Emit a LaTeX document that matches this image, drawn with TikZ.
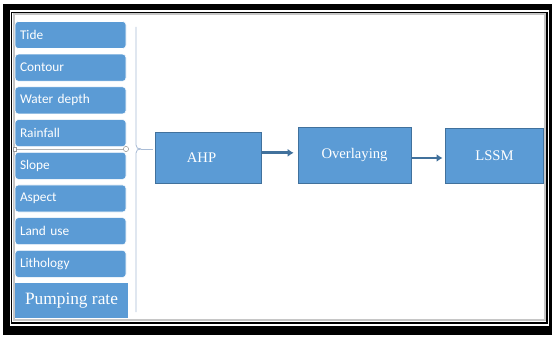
\documentclass[tikz,border=0pt]{standalone}
\usepackage{fontspec}
\setmainfont{Liberation Serif}
\newfontfamily\calib{Carlito}
\usetikzlibrary{arrows.meta}
\definecolor{boxblue}{HTML}{5B9BD5}
\definecolor{boxedge}{HTML}{41719C}
\definecolor{bracegray}{HTML}{A9BCD6}
\tikzset{
	factor/.style={fill=boxblue, draw=white, line width=0.4pt, rounded corners=2.5pt,
		minimum width=83.25pt, minimum height=20.25pt, text width=75.75pt, align=left,
		inner xsep=3.75pt, text=white, font=\calib\fontsize{10}{12}\selectfont},
	stage/.style={fill=boxblue, draw=boxedge, line width=0.5pt, text=white,
		font=\fontsize{11}{13}\selectfont},
	flow/.style={draw=boxedge, line width=2.2pt, -{Latex[length=4.5pt,width=6pt]}},
}

\begin{document}
\begin{tikzpicture}[x=0.75pt,y=-0.75pt]
\useasboundingbox (0,0) rectangle (552,338);
% frame
\fill[black] (3,4) rectangle (551.5,335);
\fill[white] (10,10.5) rectangle (548.5,326);
\draw[black, line width=0.8pt] (11.8,12.3) rectangle (547,323);
\draw[gray!45, fill=white, line width=1.5pt] (13.8,14.3) rectangle (545.3,320);
%
\node[factor] (tide) at (70.5,35) {Tide};
\node[factor] (contour) at (70.5,67.7) {Contour};
\node[factor] (depth) at (70.5,100.4) {Water depth};
\node[factor] (rainfall) at (70.5,133.1) {Rainfall};
\node[factor] (slope) at (70.5,165.8) {Slope};
\node[factor] (aspect) at (70.5,198.5) {Aspect};
\node[factor] (landuse) at (70.5,231.2) {Land use};
\node[factor] (litho) at (70.5,263.9) {Lithology};
\node[fill=boxblue, text=white, minimum width=84.75pt, minimum height=26.25pt,
	font=\fontsize{13}{15}\selectfont] (pumping) at (71.5,300.5) {Pumping rate};
%
\draw[gray!60, line width=0.4pt] (15,149) -- (126,149);
\draw[gray!80, fill=white, line width=0.4pt] (126,149) circle[radius=2.6];
\draw[gray!80, fill=white, line width=0.4pt] (13.5,147) rectangle (16.5,151);
%
\coordinate (bracetip) at (141,149);
\draw[bracegray, line width=0.6pt] (136,27) -- (136,145) .. controls (136,148) and (138,149) .. (bracetip);
\draw[bracegray, line width=0.6pt] (bracetip) .. controls (138,149) and (136,150) .. (136,153) -- (136,312);
%
\node[stage, minimum width=79.5pt, minimum height=38.25pt] (ahp) at (208.5,157.5) {AHP\hspace*{10.5pt}};
\node[stage, minimum width=84.75pt, minimum height=42pt] (overlay) at (354.5,155) {Overlaying};
\node[stage, minimum width=73.5pt, minimum height=41.25pt] (lssm) at (494.5,155.5) {LSSM};
%
\draw[bracegray, line width=0.6pt, shorten >=2] (bracetip) -- (ahp.west |- bracetip);
\draw[flow, shorten >=3] (ahp.5) -- (overlay.west |- ahp.5);
\draw[flow, shorten >=2] (overlay.-3) -- (lssm.west |- overlay.-3);
\end{tikzpicture}
\end{document}
